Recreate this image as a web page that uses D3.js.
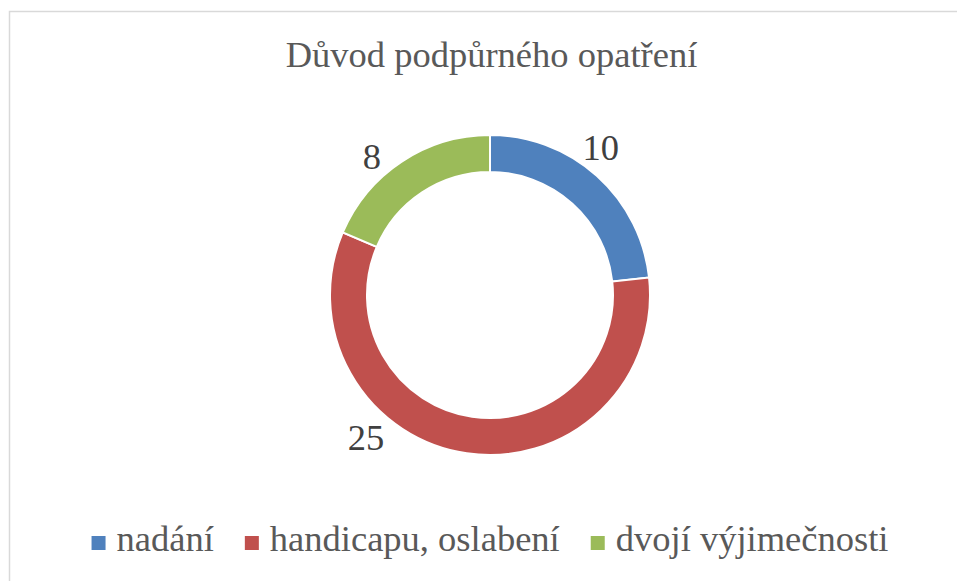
<!DOCTYPE html>
<html>
<head>
<meta charset="utf-8">
<script src="https://cdn.jsdelivr.net/npm/d3@7"></script>
<style>
  body { margin: 0; background: #fff; }
</style>
</head>
<body>
<div id="chart"></div>
<script>
// Data
const title = 'Důvod podpůrného opatření';
const categories = ['nadání', 'handicapu, oslabení', 'dvojí výjimečnosti'];
const values = [10, 25, 8];
const colors = ['#4F81BD', '#C0504D', '#9BBB59'];

// label placement (degrees clockwise from top), labels were moved by hand in the original
const labelAngles = [37, 221, 319.5];
const labelRadii = [184, 189, 182];

const width = 957;
const height = 581;
const cx = 490;
const cy = 295;
const outerR = 160;
const innerR = 123;
const font = "'Liberation Serif', serif";

const svg = d3.select('#chart')
  .append('svg')
  .attr('width', width)
  .attr('height', height)
  .style('display', 'block');

svg.append('rect')
  .attr('width', width)
  .attr('height', height)
  .attr('fill', '#fff');

// chart area border (cut off at right / bottom)
svg.append('rect')
  .attr('x', 9.5)
  .attr('y', 11.5)
  .attr('width', width + 20)
  .attr('height', height + 20)
  .attr('fill', 'none')
  .attr('stroke', '#d9d9d9')
  .attr('stroke-width', 1.5);

svg.append('text')
  .attr('x', 491.5)
  .attr('y', 67)
  .attr('text-anchor', 'middle')
  .attr('fill', '#595959')
  .style('font-family', font)
  .style('font-size', '36.5px')
  .text(title);

const pie = d3.pie().sort(null).value(d => d);
const arc = d3.arc().innerRadius(innerR).outerRadius(outerR);

const g = svg.append('g')
  .attr('transform', `translate(${cx},${cy})`);

g.selectAll('path.slice')
  .data(pie(values))
  .enter().append('path')
  .attr('class', 'slice')
  .attr('d', arc)
  .attr('fill', (d, i) => colors[i])
  .attr('stroke', '#fff')
  .attr('stroke-width', 2);

g.selectAll('text.label')
  .data(values)
  .enter().append('text')
  .attr('class', 'label')
  .attr('x', (d, i) => labelRadii[i] * Math.sin(labelAngles[i] * Math.PI / 180))
  .attr('y', (d, i) => -labelRadii[i] * Math.cos(labelAngles[i] * Math.PI / 180))
  .attr('dy', '0.34em')
  .attr('text-anchor', 'middle')
  .attr('fill', '#404040')
  .style('font-family', font)
  .style('font-size', '36.5px')
  .text(d => d);

// Legend
const legend = svg.append('g');
const items = legend.selectAll('g.item')
  .data(categories)
  .enter().append('g')
  .attr('class', 'item');

items.append('rect')
  .attr('width', 14)
  .attr('height', 14)
  .attr('y', -15)
  .attr('fill', (d, i) => colors[i]);

items.append('text')
  .attr('x', 25)
  .attr('fill', '#595959')
  .style('font-family', font)
  .style('font-size', '36.5px')
  .text(d => d);

const gap = 31;
let xPos = 0;
items.each(function() {
  const w = 25 + d3.select(this).select('text').node().getComputedTextLength();
  d3.select(this).attr('transform', `translate(${xPos},0)`);
  xPos += w + gap;
});
const legendW = xPos - gap;
legend.attr('transform', `translate(${490 - legendW / 2},551)`);
</script>
</body>
</html>
